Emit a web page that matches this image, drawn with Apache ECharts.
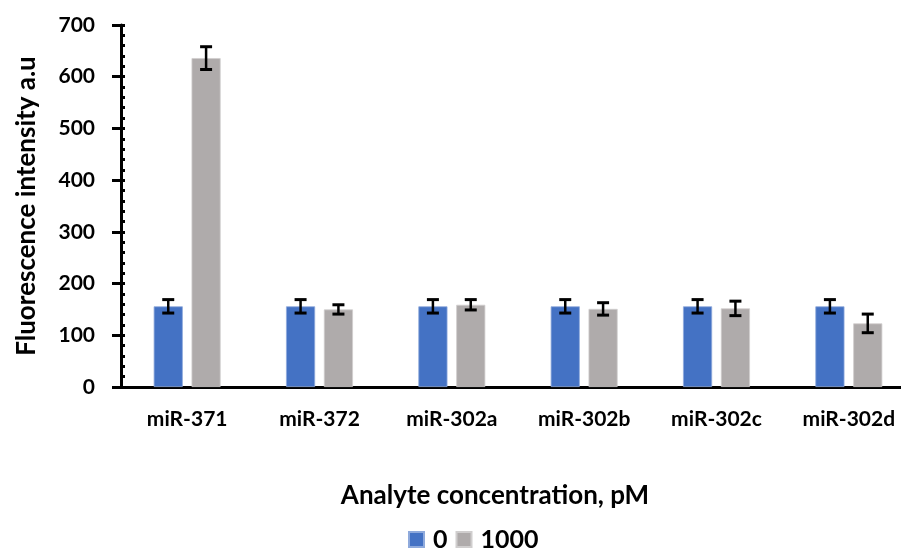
<!DOCTYPE html>
<html>
<head>
<meta charset="utf-8">
<script src="https://cdn.jsdelivr.net/npm/echarts@6/dist/echarts.min.js"></script>
<style>html,body{margin:0;padding:0;background:#fff}#c{width:901px;height:549px}</style>
</head>
<body>
<div id="c"></div>
<script>
const categories = ['miR-371', 'miR-372', 'miR-302a', 'miR-302b', 'miR-302c', 'miR-302d'];
const seriesNames = ['0', '1000'];
const values0 = [156, 156, 156, 156, 156, 156];
const errors0 = [13, 13, 13, 13, 13, 13];
const values1000 = [636, 150, 159, 151, 152, 123];
const errors1000 = [22, 9, 10, 12, 14, 18];
const yTicks = [0, 100, 200, 300, 400, 500, 600, 700];

const FONT = 'Lato';
const BAR_FRAC = 0.22, GAP = 0.3;

function errSeries(vals, errs, sign) {
  const data = vals.map((v, i) => [i, v - errs[i], v + errs[i]]);
  return {
    type: 'custom',
    silent: true,
    z: 10,
    renderItem: function (params, api) {
      const idx = api.value(0);
      const bw = api.size([1, 0])[0];
      const off = sign * bw * BAR_FRAC * (1 + GAP) / 2;
      const lo = api.coord([idx, api.value(1)]);
      const hi = api.coord([idx, api.value(2)]);
      const x = lo[0] + off;
      const cap = 6;
      const st = { stroke: '#000', lineWidth: 2.5 };
      return {
        type: 'group',
        children: [
          { type: 'line', shape: { x1: x, y1: lo[1], x2: x, y2: hi[1] }, style: st },
          { type: 'line', shape: { x1: x - cap, y1: lo[1], x2: x + cap, y2: lo[1] }, style: { stroke: '#000', lineWidth: 3 } },
          { type: 'line', shape: { x1: x - cap, y1: hi[1], x2: x + cap, y2: hi[1] }, style: { stroke: '#000', lineWidth: 3 } }
        ]
      };
    },
    encode: { x: 0, y: [1, 2] },
    data: data
  };
}

const chart = echarts.init(document.getElementById('c'), null, { renderer: 'canvas' });
const yMin = yTicks[0], yMax = yTicks[yTicks.length - 1], yInt = yTicks[1] - yTicks[0];
chart.setOption({
  animation: false,
  textStyle: { fontFamily: FONT },
  grid: { left: 121, top: 25, width: 794, height: 362, outerBoundsMode: 'none', containLabel: false },
  legend: {
    top: 522,
    left: 403,
    itemWidth: 15, itemHeight: 15, itemGap: 8,
    icon: 'rect',
    textStyle: { fontFamily: FONT, fontWeight: 'bold', fontSize: 25, color: '#000', padding: [0, 0, 0, 4] },
    data: seriesNames
  },
  xAxis: {
    type: 'category',
    data: categories,
    name: 'Analyte concentration, pM',
    nameLocation: 'middle',
    nameGap: 96,
    nameTextStyle: { fontFamily: FONT, fontWeight: 'bold', fontSize: 26, color: '#000', padding: [0, 46, 0, 0] },
    axisLine: { lineStyle: { color: '#000', width: 3 } },
    axisTick: { show: false },
    axisLabel: { fontFamily: FONT, fontWeight: 'bold', fontSize: 21, color: '#000', margin: 22 }
  },
  yAxis: [{
    type: 'value', min: yMin, max: yMax, interval: yInt,
    name: 'Fluorescence intensity a.u',
    nameLocation: 'middle',
    nameGap: 81,
    nameTextStyle: { fontFamily: FONT, fontWeight: 'bold', fontSize: 26, color: '#000' },
    axisLine: { show: true, lineStyle: { color: '#000', width: 3 } },
    axisTick: { show: true, length: 9, lineStyle: { color: '#000', width: 3 } },
    splitLine: { show: false },
    axisLabel: { fontFamily: FONT, fontWeight: 'bold', fontSize: 21, color: '#000', margin: 26 }
  }, {
    type: 'value', min: yMin, max: yMax, interval: yInt, position: 'left',
    axisLine: { show: false },
    axisTick: { show: true, inside: true, length: 4, lineStyle: { color: '#000', width: 3 } },
    minorTick: { show: true, splitNumber: 5, length: 4, lineStyle: { color: '#000', width: 3 } },
    axisLabel: { show: false },
    splitLine: { show: false }
  }],
  series: [
    {
      name: seriesNames[0], type: 'bar', data: values0,
      barWidth: (BAR_FRAC * 100) + '%', barGap: (GAP * 100) + '%',
      itemStyle: { color: '#4472C4', borderColor: '#8FAADC', borderWidth: 0.8 }
    },
    {
      name: seriesNames[1], type: 'bar', data: values1000,
      barWidth: (BAR_FRAC * 100) + '%', barGap: (GAP * 100) + '%',
      itemStyle: { color: '#AFABAB', borderColor: '#D0CECE', borderWidth: 0.8 }
    },
    errSeries(values0, errors0, -1),
    errSeries(values1000, errors1000, 1)
  ]
});
</script>
</body>
</html>
